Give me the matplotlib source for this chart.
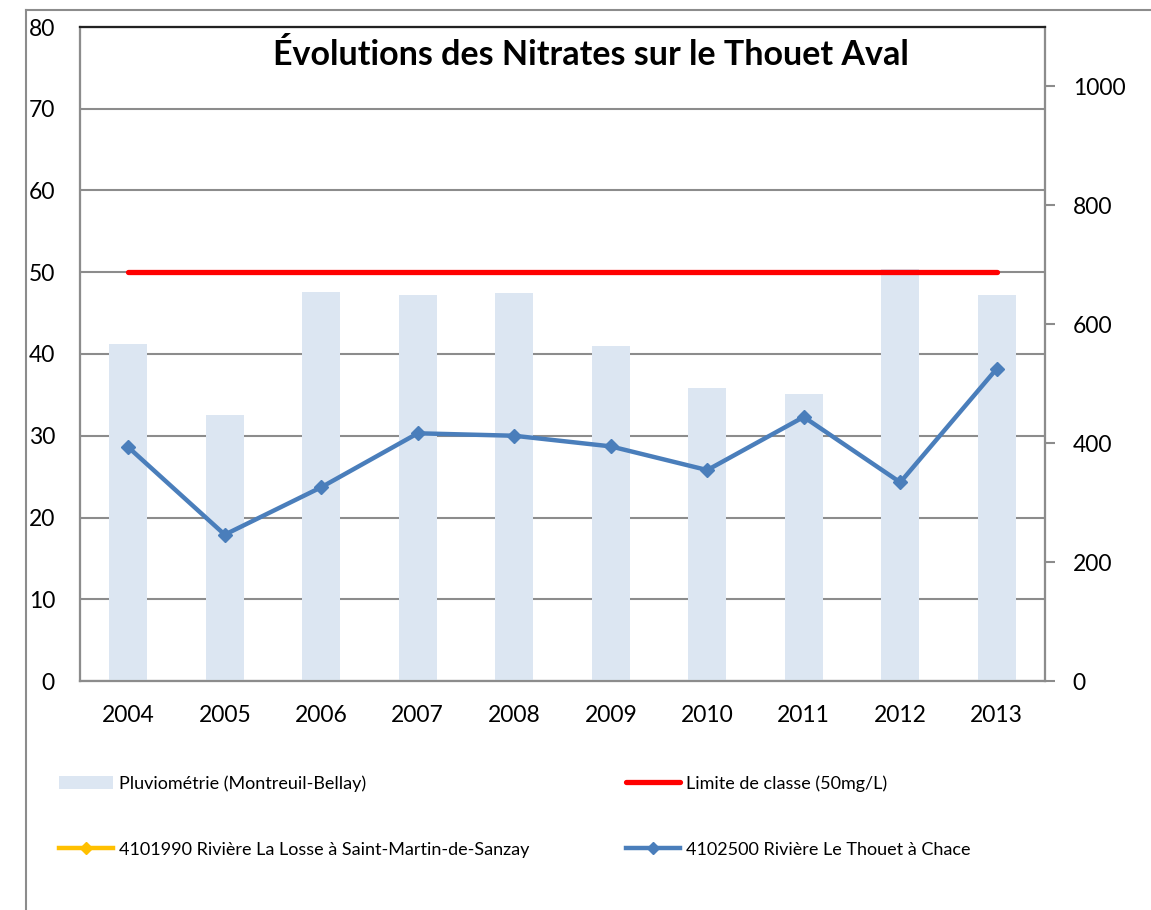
import matplotlib
matplotlib.use("Agg")
import matplotlib.pyplot as plt
from matplotlib.lines import Line2D
from matplotlib.patches import Patch

plt.rcParams['font.family'] = ['Lato', 'DejaVu Sans']

# data
years = ['2004', '2005', '2006', '2007', '2008', '2009', '2010', '2011', '2012', '2013']
pluvio = [566, 448, 654, 650, 652, 564, 492, 482, 693, 649]          # right axis (mm)
thouet = [28.6, 17.9, 23.7, 30.3, 30.0, 28.7, 25.8, 32.3, 24.3, 38.2]  # left axis (mg/L)
losse = [None] * len(years)                                          # no values shown
limite = [50] * len(years)

label_pluvio = "Pluviométrie (Montreuil-Bellay)"
label_limite = "Limite de classe (50mg/L)"
label_losse = "4101990 Rivière La Losse à Saint-Martin-de-Sanzay"
label_thouet = "4102500 Rivière Le Thouet à Chace"

bar_color = '#DCE6F2'
blue = '#4A7EBB'
red = '#FF0000'
yellow = '#FFC000'
grid_color = '#8C8C8C'

W, H = 1151, 910
fig = plt.figure(figsize=(W / 100, H / 100), dpi=100)

# axes placed to match the reference pixel box
left, right, bottom, top = 80, 1045, 681, 27
rect = [left / W, 1 - bottom / H, (right - left) / W, (bottom - top) / H]
ax = fig.add_axes(rect)
x = list(range(len(years)))

# left axis: grid + ticks
ax.set_xlim(-0.5, len(years) - 0.5)
ax.set_ylim(0, 80)
ax.set_yticks(range(0, 81, 10))
ax.yaxis.grid(True, color=grid_color, linewidth=1.5)
ax.set_axisbelow(True)
ax.tick_params(axis='y', length=0, pad=18, labelsize=16.5)
ax.set_xticks(x)
ax.set_xticklabels(years)
ax.tick_params(axis='x', length=0, pad=17, labelsize=16.5)

# right axis: bars
ax2 = ax.twinx()
ax2.bar(x, pluvio, width=0.39, color=bar_color, zorder=2)
ax2.set_ylim(0, 1100)
ax2.set_yticks(range(0, 1001, 200))
ax2.tick_params(axis='y', length=7, width=1.5, color=grid_color, pad=13, labelsize=16.5)

# third layer (left scale) for lines so they sit above the bars
ax3 = ax.twinx()
ax3.set_ylim(0, 80)
ax3.set_yticks([])
ax3.plot(x, limite, color=red, linewidth=3.8, solid_capstyle='round', zorder=3)
ax3.plot(x, thouet, color=blue, linewidth=3.2, marker='D', markersize=7.5, zorder=4)

for a in (ax, ax2, ax3):
    for s in a.spines.values():
        s.set_color(grid_color)
        s.set_linewidth(1.5)
    a.spines['top'].set_color('#222222')

fig.text(591 / W, 1 - 55 / H, "Évolutions des Nitrates sur le Thouet Aval",
         ha='center', va='center', fontsize=24.5, fontweight='bold')

# legend in two columns below the plot
h_pluvio = Patch(facecolor=bar_color, edgecolor='none')
h_limite = Line2D([], [], color=red, linewidth=3.8, solid_capstyle='round')
h_losse = Line2D([], [], color=yellow, linewidth=3.2, marker='D', markersize=6)
h_thouet = Line2D([], [], color=blue, linewidth=3.2, marker='D', markersize=6)

leg_kw = dict(frameon=False, fontsize=13, handlelength=3.0, handleheight=0.8,
              handletextpad=0.35, labelspacing=2.75, borderpad=0, borderaxespad=0,
              loc='center left')
ymid = 1 - 816.5 / H
fig.legend([h_pluvio, h_losse], [label_pluvio, label_losse],
           bbox_to_anchor=(59 / W, ymid), **leg_kw)
fig.legend([h_limite, h_thouet], [label_limite, label_thouet],
           bbox_to_anchor=(626 / W, ymid), **leg_kw)

# outer chart frame (left and top edges visible in the reference)
fig.add_artist(Line2D([26 / W, 26 / W], [0, 1 - 10 / H], transform=fig.transFigure,
                      color=grid_color, linewidth=1.5))
fig.add_artist(Line2D([26 / W, 1], [1 - 10 / H, 1 - 10 / H], transform=fig.transFigure,
                      color=grid_color, linewidth=1.5))

fig.savefig('out.png', dpi=100)
